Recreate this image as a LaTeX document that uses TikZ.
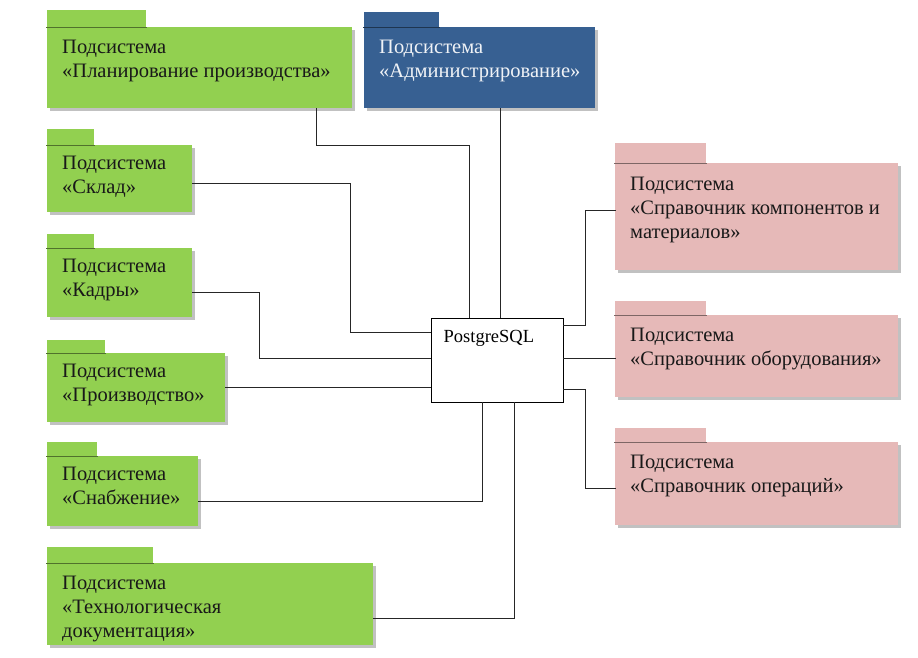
\documentclass[tikz,border=0pt]{standalone}
\usepackage{fontspec}
\setmainfont{Liberation Serif}
\usetikzlibrary{shadows}
\definecolor{subgreen}{HTML}{92D050}
\definecolor{subblue}{HTML}{376092}
\definecolor{subpink}{HTML}{E6B9B8}
\begin{document}
\begin{tikzpicture}[x=1pt,y=1pt,line cap=rect,line join=miter,
  body/.style={rectangle,anchor=north west,inner sep=0pt,
    drop shadow={shadow xshift=2.5pt,shadow yshift=-2.5pt,fill=gray!70,opacity=.7}},
  txt/.style={anchor=north west,inner sep=0pt,align=left,text=black!90,
    font=\fontsize{20.5}{24}\selectfont},
  db/.style={rectangle,draw=black,fill=white,line width=1pt,inner sep=0pt,
    minimum width=132pt,minimum height=84pt},
  link/.style={draw=black!85,line width=1pt}]
\useasboundingbox (0,0) rectangle (918,-657);
% package bodies
\node[body,fill=subgreen,minimum width=305pt,minimum height=81pt] (plan) at (47,-27) {};
\node[body,fill=subblue,minimum width=231pt,minimum height=81pt] (adm) at (364,-27) {};
\node[body,fill=subgreen,minimum width=145pt,minimum height=67pt] (skl) at (47,-145) {};
\node[body,fill=subgreen,minimum width=145pt,minimum height=69pt] (kad) at (47,-248) {};
\node[body,fill=subgreen,minimum width=178pt,minimum height=69pt] (proiz) at (47,-353) {};
\node[body,fill=subgreen,minimum width=151pt,minimum height=70pt] (snab) at (47,-456) {};
\node[body,fill=subgreen,minimum width=326pt,minimum height=82pt] (tech) at (47,-563) {};
\node[body,fill=subpink,minimum width=283pt,minimum height=107pt] (spr1) at (615,-163) {};
\node[body,fill=subpink,minimum width=283pt,minimum height=82pt] (spr2) at (615,-315) {};
\node[body,fill=subpink,minimum width=283pt,minimum height=83pt] (spr3) at (615,-442) {};
% tabs
\foreach \nm/\tw/\th/\col in {plan/99/17/subgreen,adm/75/15/subblue,skl/47/16/subgreen,
  kad/47/14/subgreen,proiz/58/13/subgreen,snab/50/14/subgreen,tech/106/16/subgreen,
  spr1/91/20/subpink,spr2/91/14/subpink,spr3/91/14/subpink}
{
  \fill[\col] (\nm.north west) rectangle ++(\tw,\th);
  \draw[\col!55!black,line width=1.3pt] ([yshift=-.6pt]\nm.north west) -- ++(\tw,0);
}
% texts
\node[txt] (plan-t) at ([shift={(15,-13)}]plan.north west)
  {Подсистема\\«Планирование производства»};
\node[txt,text=white!92!subblue] (adm-t) at ([shift={(15,-13)}]adm.north west)
  {Подсистема\\«Администрирование»};
\node[txt] (skl-t) at ([shift={(15,-11)}]skl.north west) {Подсистема\\«Склад»};
\node[txt] (kad-t) at ([shift={(15,-11)}]kad.north west) {Подсистема\\«Кадры»};
\node[txt] (proiz-t) at ([shift={(15,-11)}]proiz.north west) {Подсистема\\«Производство»};
\node[txt] (snab-t) at ([shift={(15,-11)}]snab.north west) {Подсистема\\«Снабжение»};
\node[txt] (tech-t) at ([shift={(15,-13)}]tech.north west)
  {Подсистема\\«Технологическая\\документация»};
\node[txt] (spr1-t) at ([shift={(15,-14)}]spr1.north west)
  {Подсистема\\«Справочник компонентов и\\материалов»};
\node[txt] (spr2-t) at ([shift={(15,-13)}]spr2.north west)
  {Подсистема\\«Справочник оборудования»};
\node[txt] (spr3-t) at ([shift={(15,-13)}]spr3.north west)
  {Подсистема\\«Справочник операций»};
% database
\node[db] (db) at (497,-360) {};
\node[anchor=north west,inner sep=0pt,font=\fontsize{18.5}{22}\selectfont]
  (db-t) at ([shift={(13,-13)}]db.north west) {PostgreSQL};
% connectors
\draw[link] ([xshift=116.5pt]plan.south) -- ++(0,-37) -| ([xshift=-28pt]db.north);
\draw[link] ([xshift=3pt]db.north) -- ([xshift=3pt]db.north |- adm.south);
\draw[link] ([yshift=-4.5pt]skl.east) -- ++(158,0) |- ([yshift=28pt]db.west);
\draw[link] ([yshift=-9.5pt]kad.east) -- ++(67,0) |- ([yshift=2pt]db.west);
\draw[link] (proiz.east) -- (proiz.east -| db.west);
\draw[link] ([yshift=-10pt]snab.east) -| ([xshift=-15pt]db.south);
\draw[link] ([yshift=-14pt]tech.east) -| ([xshift=17pt]db.south);
\draw[link] ([yshift=35pt]db.east) -- ++(22,0) |- ([yshift=6.5pt]spr1.west);
\draw[link] ([yshift=2pt]db.east) -- ([yshift=2pt]db.east -| spr2.west);
\draw[link] ([yshift=-29pt]db.east) -- ++(22,0) |- ([yshift=-4.5pt]spr3.west);
\end{tikzpicture}
\end{document}
